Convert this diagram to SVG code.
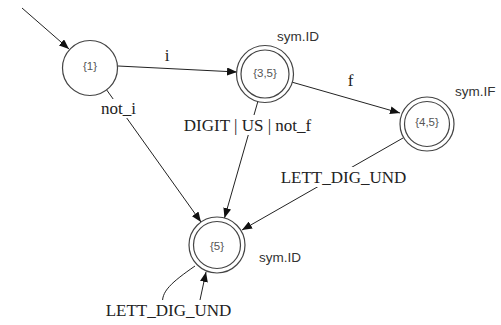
<svg xmlns="http://www.w3.org/2000/svg" width="501" height="325" viewBox="0 0 501 325">
<defs>
<marker id="ah" markerWidth="10" markerHeight="8" refX="10" refY="4" orient="auto" markerUnits="userSpaceOnUse">
<path d="M0,0 L10,4 L0,8 Z" fill="#111"/>
</marker>
<style>
.st{fill:#fff;stroke:#444;stroke-width:1.2}
.nl{font-family:"Liberation Sans",Arial,sans-serif;font-size:11.5px;fill:#555;text-anchor:middle}
.tag{font-family:"Liberation Sans",Arial,sans-serif;font-size:13.5px;fill:#333}
.el{font-family:"Liberation Serif","Times New Roman",serif;font-size:17px;fill:#222}
.e{fill:none;stroke:#222;stroke-width:1;marker-end:url(#ah)}
.bg{fill:#fff}
</style>
</defs>
<rect width="501" height="325" fill="#fff"/>
<g id="connectors">
<line class="e" x1="22" y1="8" x2="69" y2="49"/>
<line class="e" x1="118" y1="66" x2="237" y2="72"/>
<line class="e" x1="106" y1="89" x2="201" y2="222"/>
<line class="e" x1="291.5" y1="82" x2="400" y2="113"/>
<line class="e" x1="258" y1="101" x2="224.5" y2="218"/>
<line class="e" x1="403" y1="138" x2="242" y2="230"/>
<path class="e" d="M195,266 C172,282 160,292 163,305 C170,318 196,316 200,300 L206,272"/>
</g>
<g id="edge-labels">
<text class="el" x="167" y="61" text-anchor="middle">i</text>
<rect class="bg" x="99" y="99" width="40" height="19"/>
<text class="el" x="118.5" y="114" text-anchor="middle">not_i</text>
<text class="el" x="350.5" y="86" text-anchor="middle">f</text>
<rect class="bg" x="181" y="115" width="134" height="20"/>
<text class="el" x="247.5" y="131" text-anchor="middle">DIGIT | US | not_f</text>
<rect class="bg" x="278" y="167" width="131" height="20"/>
<text class="el" x="343.5" y="183" text-anchor="middle">LETT_DIG_UND</text>
<rect class="bg" x="103" y="300" width="131" height="20"/>
<text class="el" x="168.5" y="316" text-anchor="middle">LETT_DIG_UND</text>
</g>
<g id="n1">
<circle class="st" cx="90" cy="68" r="27.5"/>
<text class="nl" x="90" y="70">{1}</text>
</g>
<g id="n35">
<circle class="st" cx="265" cy="74" r="28.5"/>
<circle class="st" cx="265" cy="74" r="24"/>
<text class="nl" x="265" y="77">{3,5}</text>
<text class="tag" x="277" y="41">sym.ID</text>
</g>
<g id="n45">
<circle class="st" cx="427" cy="124" r="27"/>
<circle class="st" cx="427" cy="124" r="22.5"/>
<text class="nl" x="427" y="126">{4,5}</text>
<text class="tag" x="455" y="96">sym.IF</text>
</g>
<g id="n5">
<circle class="st" cx="217" cy="245" r="28"/>
<circle class="st" cx="217" cy="245" r="23.5"/>
<text class="nl" x="217" y="250">{5}</text>
<text class="tag" x="259" y="262">sym.ID</text>
</g>
</svg>
